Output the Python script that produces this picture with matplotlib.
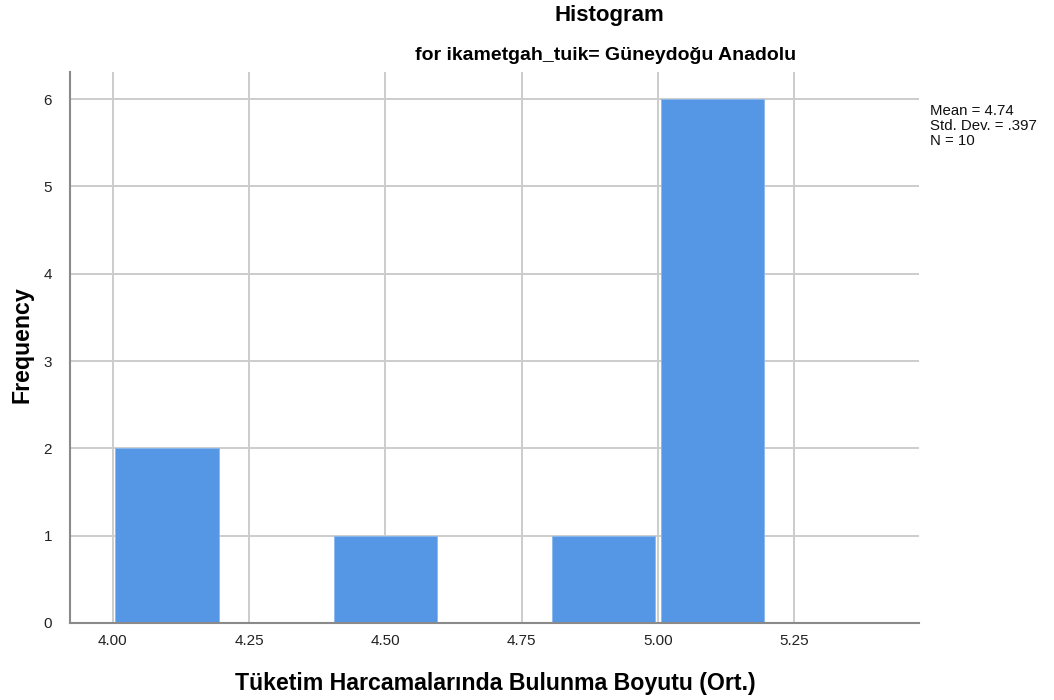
import matplotlib.pyplot as plt

# histogram bins and counts
bin_edges = [4.0, 4.2, 4.4, 4.6, 4.8, 5.0, 5.2]
counts = [2, 0, 1, 0, 1, 6]
xticks = [4.00, 4.25, 4.50, 4.75, 5.00, 5.25]
xtick_labels = ['4.00', '4.25', '4.50', '4.75', '5.00', '5.25']
yticks = [0, 1, 2, 3, 4, 5, 6]
stats_text = 'Mean = 4.74\nStd. Dev. = .397\nN = 10'

plt.rcParams['font.family'] = ['Liberation Sans', 'DejaVu Sans']

fig = plt.figure(figsize=(10.54, 7), dpi=100)
ax = fig.add_axes([70 / 1054, 1 - 623 / 700, (919 - 70) / 1054, (623 - 72) / 700])

centers = [(bin_edges[i] + bin_edges[i + 1]) / 2 for i in range(len(counts))]
widths = [(bin_edges[i + 1] - bin_edges[i]) * 0.95 for i in range(len(counts))]
ax.bar(centers, counts, width=widths, color='#5596e5', edgecolor='#8cb8ee',
       linewidth=0.6, zorder=3)

ax.set_xlim(3.9217, 5.4786)
ax.set_ylim(0, 6.31)
ax.set_xticks(xticks)
ax.set_xticklabels(xtick_labels)
ax.set_yticks(yticks)
ax.grid(True, color='#cccccc', linewidth=1.4, zorder=0)
ax.set_axisbelow(True)

for side in ['top', 'right']:
    ax.spines[side].set_visible(False)
for side in ['left', 'bottom']:
    ax.spines[side].set_color('#8a8a8a')
    ax.spines[side].set_linewidth(1.5)
    ax.spines[side].set_zorder(4)

ax.tick_params(axis='both', length=0, labelsize=11, colors='#222222')
ax.tick_params(axis='x', pad=8)
ax.tick_params(axis='y', pad=13)

fig.text(495 / 1054, 1 - 690 / 700, 'Tüketim Harcamalarında Bulunma Boyutu (Ort.)',
         ha='center', va='baseline', fontsize=16.7, fontweight='bold')
fig.text(22 / 1054, 1 - 345 / 700, 'Frequency', ha='center', va='center',
         rotation=90, fontsize=16.7, fontweight='bold')

fig.text(609 / 1054, 1 - 21 / 700, 'Histogram', ha='center', va='baseline',
         fontsize=16, fontweight='bold')
fig.text(606 / 1054, 1 - 60 / 700, 'for ikametgah_tuik= Güneydoğu Anadolu',
         ha='center', va='baseline', fontsize=14, fontweight='bold')
fig.text(930 / 1054, 1 - 104 / 700, stats_text, ha='left', va='top',
         fontsize=10.8, linespacing=1.1, color='#111111')

fig.savefig('out.png', dpi=100)
